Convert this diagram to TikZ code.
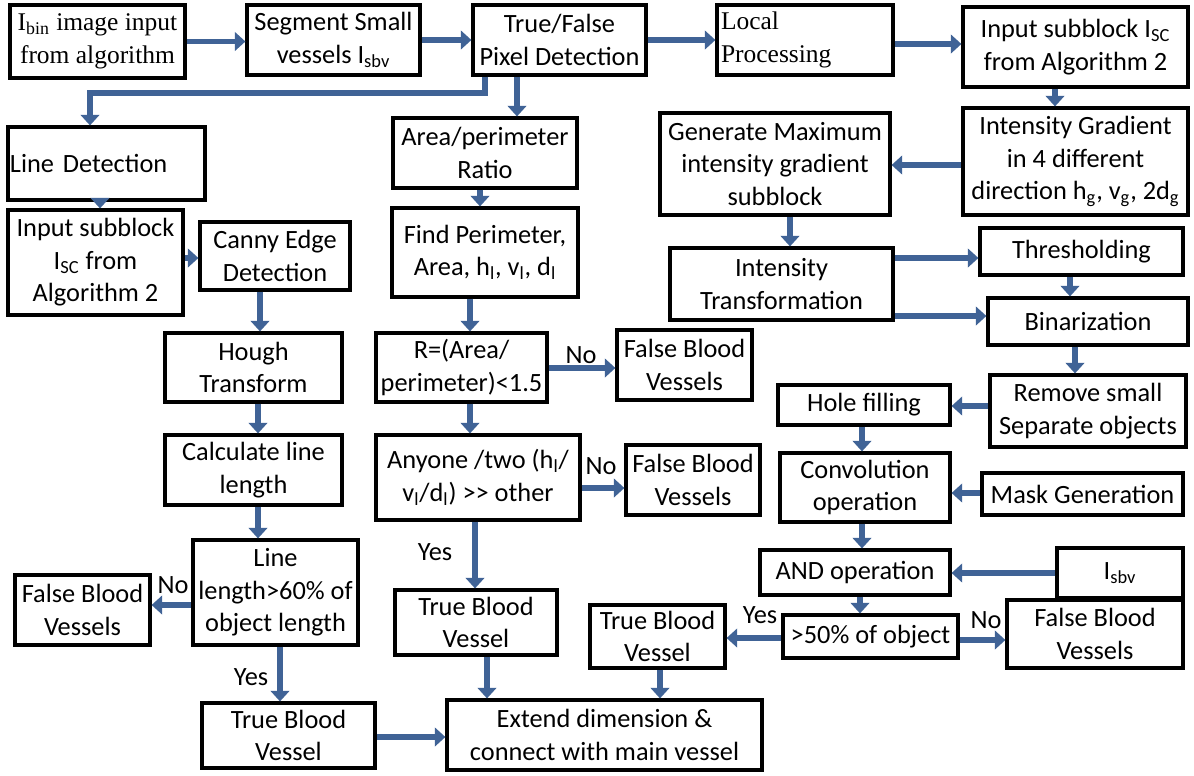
\documentclass[tikz,border=0pt]{standalone}
\usepackage{fontspec}
\setmainfont{Carlito}
\newfontfamily\timesfont{Liberation Serif}
\usepackage{tikz}
\usetikzlibrary{arrows.meta, positioning, calc}
\usepackage{xcolor}
\definecolor{flowblue}{RGB}{64,99,150}
\newcommand\boxfont{\fontsize{15}{18.5}\selectfont}
\newcommand\serifboxfont{\timesfont\fontsize{14.5}{18.5}\selectfont}

\tikzset{
  box/.style={draw, line width=1.8pt, align=center, inner sep=1pt, font=\boxfont},
  sz/.style 2 args={minimum width=#1*0.02cm, minimum height=#2*0.02cm},
  flow/.style={draw=flowblue, line width=3.3pt, -{Triangle[length=6pt,width=10.5pt]}},
  lbl/.style={font=\boxfont, inner sep=0pt}
}

\begin{document}
\begin{tikzpicture}[x=0.02cm, y=-0.02cm]
  \useasboundingbox (0,0) rectangle (1194,775);
  % top row
  \node[box, sz={175}{73}, font=\serifboxfont] (bin) at (97.5,41.5)
    {I\textsubscript{bin} image input\\from algorithm};
  \node[box, sz={173}{70}] (segment) at (333.5,40) {Segment Small\\vessels I\textsubscript{sbv}};
  \node[box, sz={173}{70}] (truefalse) at (559.5,40) {True/False\\Pixel Detection};
  \node[box, sz={176}{70}, font=\serifboxfont, align=left, text width=168*0.02cm] (localproc) at (805,40)
    {Local\\Processing\\[4pt]};
  \node[box, sz={225}{80}] (subblockR) at (1075.5,47) {Input subblock I\textsubscript{SC}\\from Algorithm 2};
  % second row
  \node[box, sz={197}{73}, align=left, text width=193*0.02cm] (linedet) at (106.5,163.5) {Line Detection};
  \node[box, sz={184}{70}] (arearatio) at (485,153) {Area/perimeter\\Ratio};
  \node[box, sz={225}{107}] (gradient) at (1075.5,161.5)
    {Intensity Gradient\\in 4 different\\direction h\textsubscript{g}, v\textsubscript{g}, 2d\textsubscript{g}};
  \node[box, sz={230}{102}] (maxgrad) at (775,164) {Generate Maximum\\intensity gradient\\subblock};
  % third row
  \node[box, sz={175}{105}] (subblockL) at (95.5,262.5) {Input subblock\\I\textsubscript{SC} from\\Algorithm 2};
  \node[box, sz={150}{68}] (canny) at (275,256) {Canny Edge\\Detection};
  \node[box, sz={186}{89}] (findper) at (485,252.5)
    {Find Perimeter,\\Area, h\textsubscript{l}, v\textsubscript{l}, d\textsubscript{l}};
  \node[box, sz={223}{72}] (inttrans) at (781.5,284) {Intensity\\Transformation};
  \node[box, sz={203}{47}] (thresh) at (1081.5,251.5) {Thresholding};
  \node[box, sz={200}{47}] (binar) at (1088,321.5) {Binarization};
  % fourth row
  \node[box, sz={177}{69}] (hough) at (253.5,367.5) {Hough\\Transform};
  \node[box, sz={171}{69}] (ratio) at (461.5,367.5) {R=(Area/\\perimeter)<1.5};
  \node[box, sz={135}{70}] (falseA) at (684.5,365) {False Blood\\Vessels};
  \node[box, sz={196}{72}] (removesmall) at (1088,411) {Remove small\\Separate objects};
  \node[box, sz={172}{40}] (holefill) at (864,405) {Hole filling};
  % fifth row
  \node[box, sz={177}{70}] (calclen) at (253.5,470) {Calculate line\\length};
  \node[box, sz={204}{85}] (anyone) at (478,477.5)
    {Anyone /two (h\textsubscript{l}/\\v\textsubscript{l}/d\textsubscript{l}) >\kern0pt> other};
  \node[box, sz={134}{70}] (falseB) at (693,480) {False Blood\\Vessels};
  \node[box, sz={170}{69}] (conv) at (865,487.5) {Convolution\\operation};
  \node[box, sz={201}{42}] (mask) at (1082.5,494) {Mask Generation};
  % sixth row
  \node[box, sz={165}{105}] (linelen) at (275.5,592.5) {Line\\length>60\% of\\object length};
  \node[box, sz={135}{70}] (falseC) at (82.5,610) {False Blood\\Vessels};
  \node[box, sz={162}{65}] (trueA) at (476,622.5) {True Blood\\Vessel};
  \node[box, sz={190}{45}] (andop) at (855,572.5) {AND operation};
  \node[box, sz={126}{50}] (isbv) at (1120,573) {I\textsubscript{sbv}};
  \node[box, sz={175}{43}] (fifty) at (870.5,636.5) {>50\% of object};
  \node[box, sz={135}{63}] (trueB) at (657.5,636.5) {True Blood\\Vessel};
  \node[box, sz={176}{68}] (falseD) at (1095,634) {False Blood\\Vessels};
  % bottom row
  \node[box, sz={173}{65}] (trueC) at (288.5,735.5) {True Blood\\Vessel};
  \node[box, sz={315}{70}] (extend) at (604.5,735) {Extend dimension \&\\connect with main vessel};

  % connectors
  \draw[flow] (bin.east) -- (bin.east -| segment.west);
  \draw[flow] (segment.east) -- (segment.east -| truefalse.west);
  \draw[flow] (truefalse.east) -- (truefalse.east -| localproc.west);
  \draw[flow] (localproc.east |- 0,44) -- (subblockR.west |- 0,44);
  \draw[flow] (truefalse.south -| 485,0) -- (485,93) -| (linedet.north -| 90,0);
  \draw[flow] (truefalse.south -| 517,0) -- (arearatio.north -| 517,0);
  \draw[flow] (subblockR.south -| 1055,0) -- (gradient.north -| 1055,0);
  \draw[flow] (gradient.west |- 0,165) -- (maxgrad.east |- 0,165);
  \draw[flow] (linedet.south -| 100,0) -- (subblockL.north -| 100,0);
  \draw[flow] (subblockL.east |- 0,258) -- (canny.west |- 0,258);
  \draw[flow] (arearatio.south -| 480,0) -- (findper.north -| 480,0);
  \draw[flow] (maxgrad.south -| 790,0) -- (inttrans.north -| 790,0);
  \draw[flow] (inttrans.east |- 0,258) -- (thresh.west |- 0,258);
  \draw[flow] (inttrans.east |- 0,316) -- (binar.west |- 0,316);
  \draw[flow] (thresh.south -| 1070,0) -- (binar.north -| 1070,0);
  \draw[flow] (canny.south -| 260,0) -- (hough.north -| 260,0);
  \draw[flow] (findper.south -| 470,0) -- (ratio.north -| 470,0);
  \draw[flow] (binar.south -| 1075,0) -- (removesmall.north -| 1075,0);
  \draw[flow] (ratio.east |- 0,368) -- (falseA.west |- 0,368);
  \draw[flow] (removesmall.west |- 0,406) -- (holefill.east |- 0,406);
  \draw[flow] (hough.south -| 258,0) -- (calclen.north -| 258,0);
  \draw[flow] (ratio.south -| 470,0) -- (anyone.north -| 470,0);
  \draw[flow] (anyone.east |- 0,488) -- (falseB.west |- 0,488);
  \draw[flow] (holefill.south -| 862,0) -- (conv.north -| 862,0);
  \draw[flow] (mask.west |- 0,493) -- (conv.east |- 0,493);
  \draw[flow] (calclen.south -| 258,0) -- (linelen.north -| 258,0);
  \draw[flow] (linelen.west |- 0,605) -- (falseC.east |- 0,605);
  \draw[flow] (anyone.south -| 475,0) -- (trueA.north -| 475,0);
  \draw[flow] (conv.south -| 862,0) -- (andop.north -| 862,0);
  \draw[flow] (isbv.west |- 0,573) -- (andop.east |- 0,573);
  \draw[flow] (andop.south -| 860,0) -- (fifty.north -| 860,0);
  \draw[flow] (fifty.west |- 0,638) -- (trueB.east |- 0,638);
  \draw[flow] (fifty.east |- 0,640) -- (falseD.west |- 0,640);
  \draw[flow] (linelen.south -| 280,0) -- (trueC.north -| 280,0);
  \draw[flow] (trueC.east |- 0,737) -- (extend.west |- 0,737);
  \draw[flow] (trueA.south -| 487,0) -- (extend.north -| 487,0);
  \draw[flow] (trueB.south -| 660,0) -- (extend.north -| 660,0);

  % decision labels
  \node[lbl] (noA) at (581,355) {No};
  \node[lbl] (noB) at (601,466) {No};
  \node[lbl] (yesA) at (435,552) {Yes};
  \node[lbl] (noC) at (173,585) {No};
  \node[lbl] (yesB) at (251,677) {Yes};
  \node[lbl] (yesC) at (760,615) {Yes};
  \node[lbl] (noD) at (986,620) {No};
\end{tikzpicture}
\end{document}
